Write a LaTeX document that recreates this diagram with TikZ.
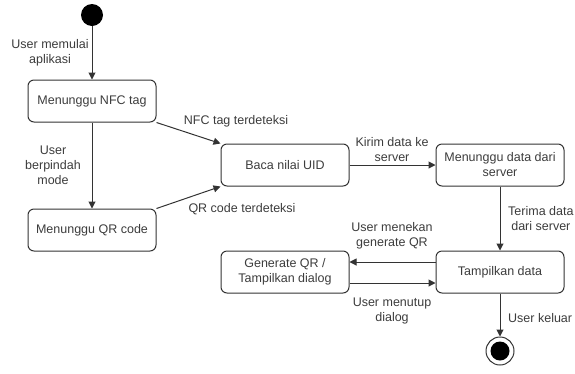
\documentclass[tikz,border=0pt]{standalone}
\usepackage{fontspec}
\setmainfont{Liberation Sans}
\usetikzlibrary{positioning,arrows.meta,shapes}

\definecolor{linegray}{HTML}{333333}
\definecolor{textgray}{HTML}{3C3C3C}

\begin{document}
\begin{tikzpicture}[
x=1pt,y=-1pt,
font=\fontsize{12.5}{15}\selectfont,
text=textgray,
state/.style={
  draw=linegray,
  line width=1pt,
  rounded corners=6pt,
  minimum width=128pt,
  minimum height=42pt,
  align=center},
trans/.style={
  draw=linegray,
  line width=1pt,
  -{Triangle[width=7pt,length=7pt]}},
lbl/.style={
  align=center,
  inner sep=1pt}
]
\useasboundingbox (0,0) rectangle (575,373);
\node[circle,fill=black,minimum size=22pt,inner sep=0pt] (start) at (92,15) {};
\node[state] (nfc) at (92,101) {Menunggu NFC tag};
\node[state] (qr) at (92,230) {Menunggu QR code};
\node[state] (baca) at (285,165) {Baca nilai UID};
\node[state] (tunggu) at (500,165) {Menunggu data dari\\server};
\node[state] (tampil) at (500,272) {Tampilkan data};
\node[state] (gen) at (285,272) {Generate QR /\\Tampilkan dialog};
\node[circle,draw=linegray,line width=1pt,minimum size=28pt,inner sep=0pt] (stop) at (500,351) {};
\node[circle,fill=black,minimum size=19pt,inner sep=0pt] at (stop) {};
% transitions
\draw[trans] (start) -- (nfc);
\draw[trans] (nfc) -- (qr);
\draw[trans] (nfc.south east) -- (baca.north west);
\draw[trans] (qr.north east) -- (baca.south west);
\draw[trans] (baca) -- (tunggu);
\draw[trans] (tunggu) -- (tampil);
\draw[trans] ([yshift=10pt]tampil.west) -- ([yshift=10pt]gen.east);
\draw[trans] ([yshift=-11pt]gen.east) -- ([yshift=-11pt]tampil.west);
\draw[trans] (tampil) -- (stop);
% labels
\node[lbl] at (50,53) {User memulai\\aplikasi};
\node[lbl] at (53,165) {User\\berpindah\\mode};
\node[lbl] at (236,121) {NFC tag terdeteksi};
\node[lbl] at (242,209) {QR code terdeteksi};
\node[lbl] at (392,150) {Kirim data ke\\server};
\node[lbl,anchor=west] at (507,219) {Terima data\\dari server};
\node[lbl] at (392,236) {User menekan\\generate QR};
\node[lbl] at (392,311) {User menutup\\dialog};
\node[lbl,anchor=west] at (507,318) {User keluar};
\end{tikzpicture}
\end{document}
